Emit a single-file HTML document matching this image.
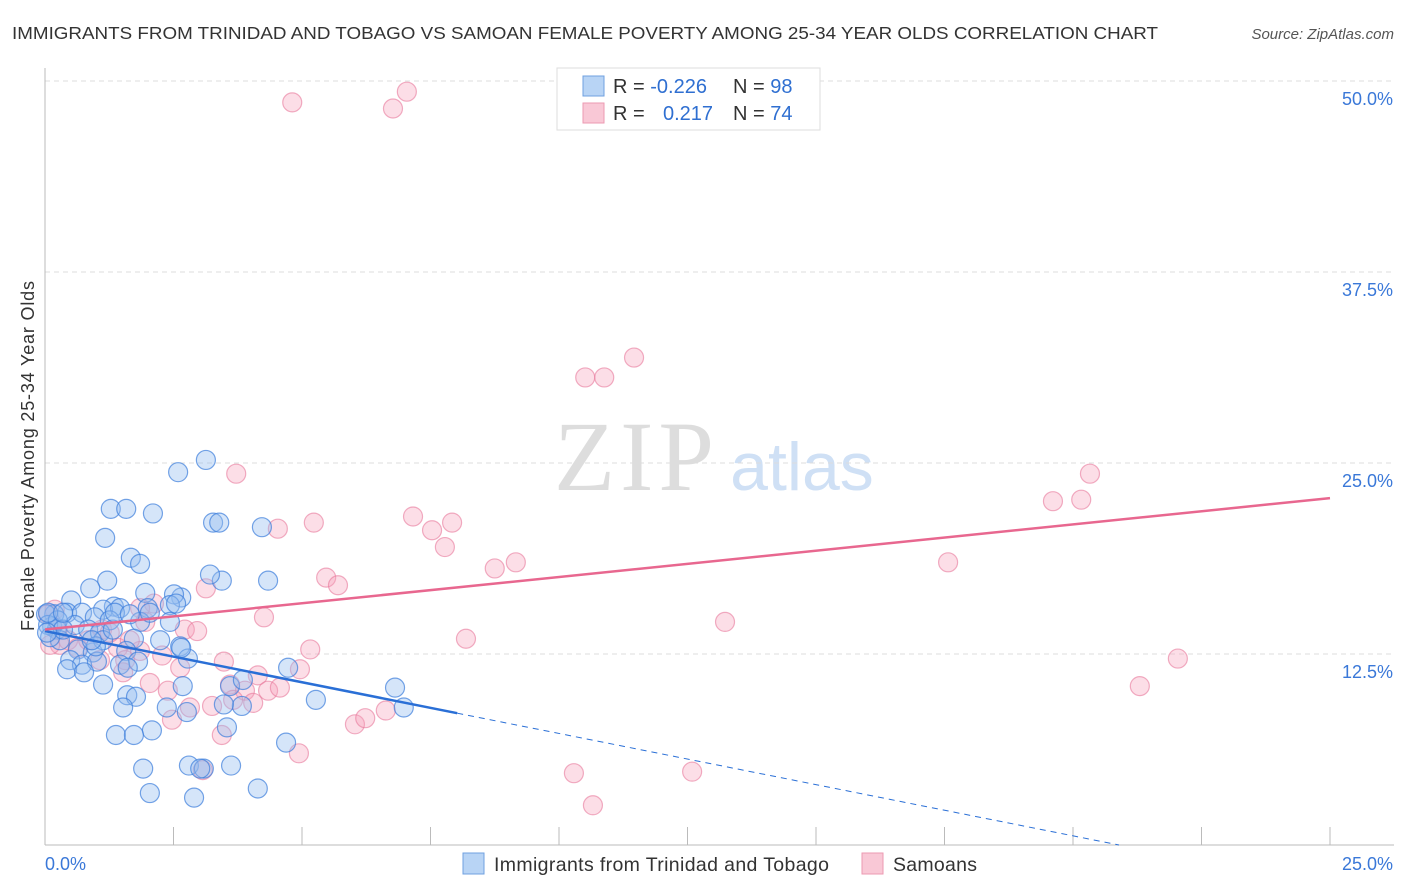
<!DOCTYPE html>
<html><head><meta charset="utf-8"><style>
body{margin:0;background:#fff;font-family:"Liberation Sans",sans-serif}
svg{display:block}
</style></head><body>
<svg width="1406" height="892" id="chart">
<text x="12" y="39" font-size="17.5" fill="#333" textLength="1146" lengthAdjust="spacingAndGlyphs">IMMIGRANTS FROM TRINIDAD AND TOBAGO VS SAMOAN FEMALE POVERTY AMONG 25-34 YEAR OLDS CORRELATION CHART</text>
<text x="1394" y="39" font-size="15" fill="#555" font-style="italic" text-anchor="end">Source: ZipAtlas.com</text>
<text x="634" y="490" font-size="100" fill="#ddd" text-anchor="middle" font-family="Liberation Serif,serif" textLength="160">ZIP</text>
<text x="802" y="490" font-size="68" fill="#cfe0f5" text-anchor="middle">atlas</text>
<text transform="translate(34,456) rotate(-90)" font-size="18" fill="#333" text-anchor="middle" textLength="350">Female Poverty Among 25-34 Year Olds</text>
<g id="grid"></g><g id="pts"></g><g id="trend"></g>
<g>
<rect x="557" y="68" width="263" height="62" fill="#fff" stroke="#ddd"/>
<rect x="583" y="76" width="21" height="20" fill="#b8d4f5" stroke="#6fa0e0"/>
<rect x="583" y="103" width="21" height="20" fill="#f9c8d6" stroke="#ec9ab2"/>
<text x="613" y="93" font-size="20" fill="#333">R = <tspan fill="#2f6fd1">-0.226</tspan><tspan x="733">N = </tspan><tspan fill="#2f6fd1">98</tspan></text>
<text x="613" y="120" font-size="20" fill="#333">R = <tspan x="663" fill="#2f6fd1">0.217</tspan><tspan x="733">N = </tspan><tspan fill="#2f6fd1">74</tspan></text>
</g>
<g>
<rect x="463" y="853" width="21" height="21" fill="#b8d4f5" stroke="#6fa0e0"/>
<text x="494" y="871" font-size="19.5" fill="#333" textLength="335">Immigrants from Trinidad and Tobago</text>
<rect x="862" y="853" width="21" height="21" fill="#f9c8d6" stroke="#ec9ab2"/>
<text x="893" y="871" font-size="19.5" fill="#333" textLength="84">Samoans</text>
</g>
</svg>
<script>
const yTicks=[12.5,25,37.5,50];
const xTickLabels=["0.0%","25.0%"];
const blueX=[2.59,3.13,1.28,1.58,2.10,3.27,3.39,4.22,1.17,1.67,1.85,1.21,0.88,1.95,2.65,2.51,0.51,1.34,1.13,1.46,2.00,2.43,0.43,0.18,0.72,0.97,1.26,1.85,0.14,0.23,0.58,0.84,1.07,1.73,2.24,2.63,0.29,0.64,0.93,1.58,0.49,0.72,1.01,1.81,1.46,2.78,4.73,0.43,0.76,1.13,1.61,2.68,3.60,3.85,6.81,5.27,1.60,1.77,6.98,1.52,2.37,2.76,3.83,3.48,2.08,1.38,1.73,3.54,4.69,1.91,2.80,3.09,3.62,2.04,2.90,4.14,0.02,0.06,0.10,0.25,0.35,0.04,2.43,1.13,1.32,4.34,3.44,3.21,2.65,0.99,2.55,0.06,3.02,0.35,1.36,1.65,2.04,0.91];
const blueY=[24.4,25.2,22.0,22.0,21.7,21.1,21.1,20.8,20.1,18.8,18.4,17.3,16.8,16.5,16.2,16.4,16.0,15.6,15.4,15.5,15.5,15.7,15.2,15.1,15.2,14.9,14.7,14.6,14.3,14.1,14.4,14.1,13.9,13.5,13.4,13.0,13.4,12.8,12.6,12.7,12.1,11.8,12.0,12.0,11.8,12.2,11.6,11.5,11.3,10.5,11.6,10.4,10.4,10.8,10.3,9.5,9.8,9.7,9.0,9.0,9.0,8.7,9.1,9.2,7.5,7.2,7.2,7.7,6.7,5.0,5.2,5.0,5.2,3.4,3.1,3.7,15.1,14.4,13.6,14.7,14.1,13.9,14.6,13.4,14.1,17.3,17.3,17.7,12.9,13.0,15.8,15.2,5.0,15.2,15.2,15.1,15.2,13.4];
const pinkX=[4.81,6.77,7.04,11.46,10.51,10.88,3.72,20.33,19.61,20.16,7.16,7.92,7.53,7.78,5.23,4.53,8.75,9.16,5.47,5.70,17.57,3.13,4.26,13.23,8.19,22.04,21.30,2.12,1.85,1.95,2.72,2.96,1.11,0.19,0.06,0.25,0.45,0.64,1.07,1.42,1.56,1.85,2.28,2.63,3.48,4.14,4.96,5.16,1.52,2.04,2.39,3.60,3.89,4.34,4.57,2.47,2.82,3.25,3.44,3.66,4.05,4.94,6.03,6.23,6.63,10.29,12.59,10.66,3.07,0.29,0.84,1.26,1.65,0.10];
const pinkY=[48.6,48.2,49.3,31.9,30.6,30.6,24.3,24.3,22.5,22.6,21.5,21.1,20.6,19.5,21.1,20.7,18.1,18.5,17.5,17.0,18.5,16.8,14.9,14.6,13.5,12.2,10.4,15.8,15.5,14.6,14.1,14.0,14.1,15.4,15.1,14.1,13.4,12.9,12.1,12.9,12.1,12.7,12.4,11.6,12.0,11.1,11.5,12.8,11.3,10.6,10.1,10.5,10.1,10.1,10.3,8.2,9.0,9.1,7.2,9.5,9.3,6.0,7.9,8.3,8.8,4.7,4.8,2.6,4.9,13.1,13.4,13.9,13.4,13.1];
const blueTrend=[14.0,-0.67];
const pinkTrend=[14.1,0.344];
const NS="http://www.w3.org/2000/svg";
const X=v=>45+v/25*1285, Y=v=>845-v*15.28;
function mk(t,a,p){const e=document.createElementNS(NS,t);for(const k in a)e.setAttribute(k,a[k]);p.appendChild(e);return e;}
const g=document.getElementById('grid');
yTicks.forEach(t=>{const l=mk('line',{x1:45,x2:1394,y1:Y(t),y2:Y(t),stroke:'#ddd','stroke-dasharray':'5,4'},g);


const tx=mk('text',{x:1393,y:Y(t)+24,'font-size':18,fill:'#3a78d8','text-anchor':'end'},g);tx.textContent=t.toFixed(1)+'%';

});
const ax=mk('line',{x1:45,x2:1394,y1:845,y2:845,stroke:'#bbb'},g);


const ay=mk('line',{x1:45,x2:45,y1:68,y2:845,stroke:'#bbb'},g);


for(let i=1;i<=10;i++){const t=mk('line',{x1:X(i*2.5),x2:X(i*2.5),y1:827,y2:845,stroke:'#bbb'},g);

}
xTickLabels.forEach((s,i)=>{const t=mk('text',{x:i?1393:45,y:870,'font-size':18,fill:'#3a78d8','text-anchor':i?'end':'start'},g);t.textContent=s;

});
const P=document.getElementById('pts');
pinkX.forEach((x,i)=>{const c=mk('circle',{cx:X(x),cy:Y(pinkY[i]),r:9.5,fill:'rgba(245,160,185,0.35)',stroke:'rgba(232,120,155,0.6)','stroke-width':1.2},P);

});
blueX.forEach((x,i)=>{const c=mk('circle',{cx:X(x),cy:Y(blueY[i]),r:9.5,fill:'rgba(150,190,240,0.4)',stroke:'rgba(60,125,220,0.7)','stroke-width':1.2},P);

});
const T=document.getElementById('trend');
const bz=-blueTrend[0]/blueTrend[1];
const b1=mk('line',{x1:X(0),y1:Y(blueTrend[0]),x2:X(8.02),y2:Y(blueTrend[0]+blueTrend[1]*8.02),stroke:'#2a6fd6','stroke-width':2.5},T);


const b2=mk('line',{x1:X(8.02),y1:Y(blueTrend[0]+blueTrend[1]*8.02),x2:X(bz),y2:Y(0),stroke:'#2a6fd6','stroke-width':1,'stroke-dasharray':'6,5'},T);


const p1=mk('line',{x1:X(0),y1:Y(pinkTrend[0]),x2:X(25),y2:Y(pinkTrend[0]+pinkTrend[1]*25),stroke:'#e8678f','stroke-width':2.5},T);


</script>
</body></html>
